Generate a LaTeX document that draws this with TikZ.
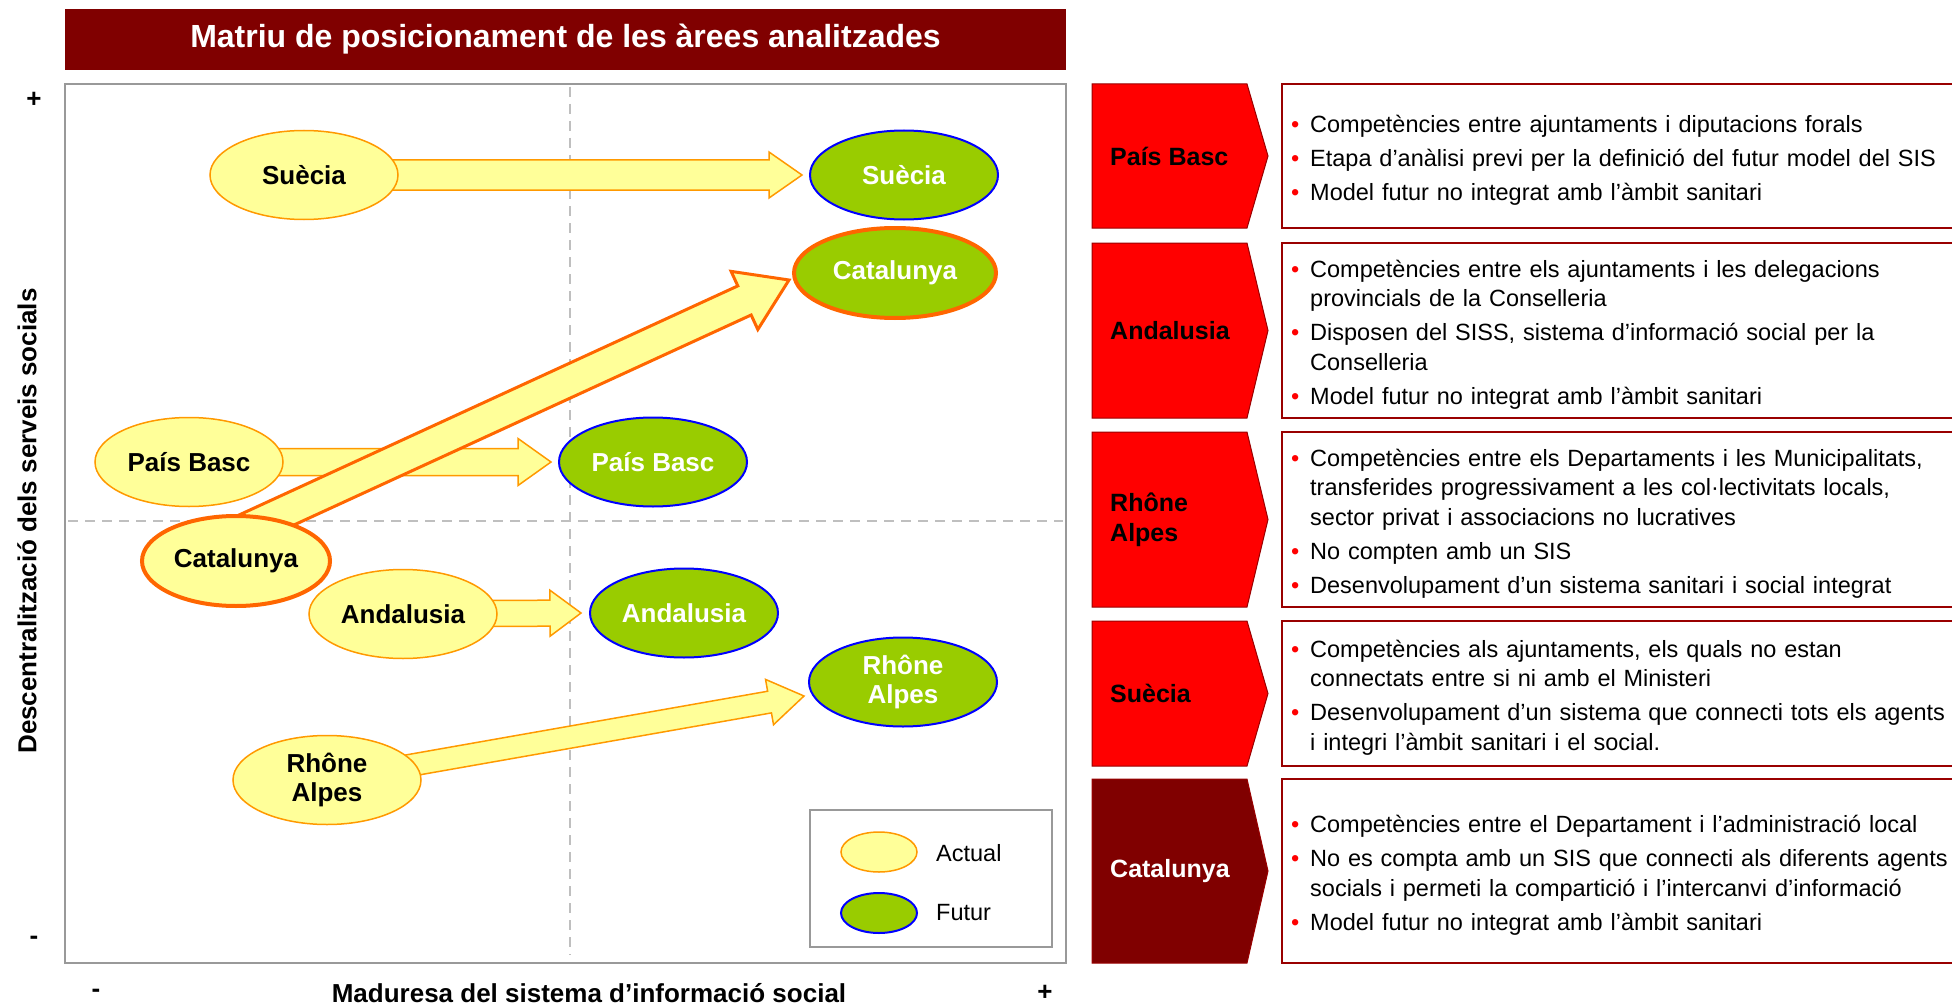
\documentclass[tikz,border=0pt]{standalone}
\usepackage{fontspec}
\setmainfont{Liberation Sans}
\usepackage{tikz}
\usepackage{xcolor}
\usetikzlibrary{calc,shapes.geometric,positioning}
\pgfdeclarelayer{bg}
\pgfdeclarelayer{arrows}
\pgfsetlayers{bg,arrows,main}
\definecolor{titlered}{HTML}{800000}
\definecolor{boxred}{HTML}{FF0000}
\definecolor{boxline}{HTML}{990000}
\definecolor{actfill}{HTML}{FFFF99}
\definecolor{actline}{HTML}{FF9900}
\definecolor{catline}{HTML}{FF6600}
\definecolor{futfill}{HTML}{99CC00}
\definecolor{futline}{HTML}{0000FF}
\definecolor{framegray}{HTML}{999999}
\definecolor{dashgray}{HTML}{BFBFBF}
\newcommand{\blockarrow}[6][]{%
\coordinate (ba-s) at (#2);
\coordinate (ba-t) at (#3);
\coordinate (ba-h) at ($(ba-t)!#6!(ba-s)$);
\draw[#1] ($(ba-s)!#4!90:(ba-t)$) -- ($(ba-h)!#4!90:(ba-t)$) -- ($(ba-h)!#5!90:(ba-t)$) -- (ba-t) -- ($(ba-h)!#5!-90:(ba-t)$) -- ($(ba-h)!#4!-90:(ba-t)$) -- ($(ba-s)!#4!-90:(ba-t)$) -- cycle;}
\newcommand{\bitem}[1]{\par\noindent\hangindent=19pt\hangafter=1\makebox[19pt][l]{\textcolor{boxred}{\textbullet}}#1\par}

\begin{document}
\begin{tikzpicture}[x=1pt,y=-1pt,
actual/.style={ellipse,draw=actline,fill=actfill,line width=1.5pt,minimum width=188pt,minimum height=89pt,inner sep=0pt,align=center,font=\bfseries\fontsize{26}{29}\selectfont},
futur/.style={actual,draw=futline,fill=futfill,line width=2pt,text=white},
cat/.style={draw=catline,line width=4pt},
arr/.style={draw=actline,fill=actfill,line width=1.5pt,line join=miter},
catarr/.style={draw=catline,fill=actfill,line width=3pt,line join=miter},
chev/.style={draw=boxline,line width=1pt},
descbox/.style={draw=boxline,line width=1.5pt},
descr/.style={anchor=west,inner sep=0pt,text width=660pt,align=left,font=\fontsize{23.5}{29.5}\selectfont,execute at begin node={\setlength{\parskip}{4.5pt}}},
lab/.style={anchor=west,inner sep=0pt,align=left,font=\bfseries\fontsize{25}{30}\selectfont},
axis/.style={font=\bfseries\fontsize{26}{26}\selectfont}]
\useasboundingbox (0,0) rectangle (1952,1006);
\node (title) at (565.5,39.5) [fill=titlered,text=white,minimum width=1001pt,minimum height=61pt,font=\bfseries\fontsize{32}{32}\selectfont] {Matriu de posicionament de les àrees analitzades};
\begin{pgfonlayer}{bg}
\draw[framegray,line width=2.5pt,fill=white] (65,84) rectangle (1066,963);
\draw[dashgray,line width=1.5pt,dash pattern=on 10pt off 7pt] (570,87) -- (570,955);
\draw[dashgray,line width=1.5pt,dash pattern=on 10pt off 7pt] (68,521) -- (1063,521);
\end{pgfonlayer}
\node (yplus) at (34,100) [axis] {+};
\node (yminus) at (34,940) [axis] {-};
\node (ylab) at (27,521) [axis,rotate=90] {Descentralització dels serveis socials};
\node (xminus) at (96,993) [axis] {-};
\node (xplus) at (1045,993) [axis] {+};
\node (xlab) at (589,993) [axis] {Maduresa del sistema d’informació social};
\node (sA) at (304,175) [actual] {Suècia};
\node (sF) at (904,175) [futur] {Suècia};
\node (cF) at (895,273) [futur,cat,minimum width=202pt,minimum height=90pt] {Catalunya};
\node (pA) at (189,462) [actual] {País Basc};
\node (pF) at (653,462) [futur] {País Basc};
\node (cA) at (236,561) [actual,cat,minimum height=90pt] {Catalunya};
\node (aA) at (403,614) [actual] {Andalusia};
\node (aF) at (684,613) [futur] {Andalusia};
\node (rF) at (903,682) [futur] {Rhône\\Alpes};
\node (rA) at (327,780) [actual] {Rhône\\Alpes};
\begin{pgfonlayer}{arrows}
\blockarrow[arr]{sA.center}{[xshift=-7pt]sF.west}{15pt}{23pt}{33pt}
\blockarrow[arr]{pA.center}{[xshift=-7pt]pF.west}{13.5pt}{23.5pt}{33pt}
\blockarrow[arr]{aA.center}{[xshift=-8pt]aF.west}{13pt}{23pt}{31pt}
\blockarrow[arr]{rA.center}{[xshift=-4pt,yshift=-14pt]rF.west}{11pt}{23pt}{35pt}
\blockarrow[catarr]{[yshift=27pt]cA.center}{[xshift=-3pt,yshift=-7pt]cF.west}{16pt}{32pt}{49pt}
\end{pgfonlayer}
\node (legend) at (931,878.5) [draw=framegray,line width=2pt,fill=white,minimum width=242pt,minimum height=137pt] {};
\node (legA) at (879,852) [actual,minimum width=76pt,minimum height=40pt] {};
\node (legF) at (879,913) [futur,minimum width=76pt,minimum height=40pt] {};
\node (legAt) at (936,853) [anchor=west,inner sep=0pt,font=\fontsize{23.5}{23.5}\selectfont] {Actual};
\node (legFt) at (936,913) [anchor=west,inner sep=0pt,font=\fontsize{23.5}{23.5}\selectfont] {Futur};
\foreach \yt/\yb/\fc in {84/228/boxred,243/418/boxred,432/607/boxred,621/766/boxred,779/963/titlered}
{
\draw[chev,fill=\fc] (1092,\yt) -- (1247,\yt) -- (1268,{(\yt+\yb)/2}) -- (1247,\yb) -- (1092,\yb) -- cycle;
\draw[descbox] (1282,\yt) rectangle (1962,\yb);
}
\node (lPB) at (1110,156) [lab] {País Basc};
\node (lAN) at (1110,330.5) [lab] {Andalusia};
\node (lRA) at (1110,519.5) [lab] {Rhône\\Alpes};
\node (lSU) at (1110,693.5) [lab] {Suècia};
\node (lCA) at (1110,871) [lab,text=white] {Catalunya};
\node (dPB) at (1291,152) [descr] {\bitem{Competències entre ajuntaments i diputacions forals}\bitem{Etapa d’anàlisi previ per la definició del futur model del SIS}\bitem{Model futur no integrat amb l’àmbit sanitari}};
\node (dAN) at (1291,326) [descr] {\bitem{Competències entre els ajuntaments i les delegacions\newline provincials de la Conselleria}\bitem{Disposen del SISS, sistema d’informació social per la\newline Conselleria}\bitem{Model futur no integrat amb l’àmbit sanitari}};
\node (dRA) at (1291,515) [descr] {\bitem{Competències entre els Departaments i les Municipalitats,\newline transferides progressivament a les col·lectivitats locals,\newline sector privat i associacions no lucratives}\bitem{No compten amb un SIS}\bitem{Desenvolupament d’un sistema sanitari i social integrat}};
\node (dSU) at (1291,689) [descr] {\bitem{Competències als ajuntaments, els quals no estan\newline connectats entre si ni amb el Ministeri}\bitem{Desenvolupament d’un sistema que connecti tots els agents\newline i integri l’àmbit sanitari i el social.}};
\node (dCA) at (1291,867) [descr] {\bitem{Competències entre el Departament i l’administració local}\bitem{No es compta amb un SIS que connecti als diferents agents\newline socials i permeti la compartició i l’intercanvi d’informació}\bitem{Model futur no integrat amb l’àmbit sanitari}};
\end{tikzpicture}
\end{document}
